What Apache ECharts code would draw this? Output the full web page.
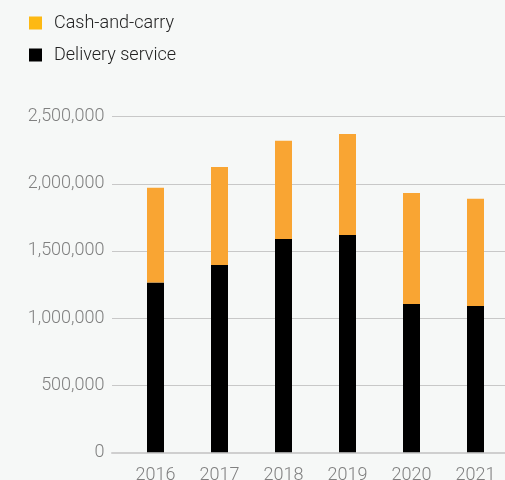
<!DOCTYPE html>
<html>
<head>
<meta charset="utf-8">
<script src="https://cdn.jsdelivr.net/npm/echarts@6/dist/echarts.min.js"></script>
<style>
  html, body { margin: 0; padding: 0; background: #f6f8f7; }
  #chart { width: 505px; height: 480px; }
</style>
</head>
<body>
<div id="chart"></div>
<script>
'use strict'

var years = ['2016', '2017', '2018', '2019', '2020', '2021'];
var delivery = [1264000, 1396000, 1589000, 1619000, 1105000, 1090000];
var cashAndCarry = [706000, 730000, 731000, 753000, 827000, 798000];
var yMax = 2500000;
var yStep = 500000;

var labelFont = 'Roboto';
var myChart = echarts.init(document.getElementById('chart'));

var option = {
    backgroundColor: '#f6f8f7',
    animation: false,
    legend: {
        orient: 'vertical',
        left: 24,
        top: 9,
        itemWidth: 13,
        itemHeight: 13,
        itemGap: 14,
        icon: 'rect',
        textStyle: {
            color: '#222222',
            fontSize: 18,
            fontFamily: labelFont,
            fontWeight: 300,
            padding: [0, 0, 0, 7]
        },
        data: [
            { name: 'Cash-and-carry', itemStyle: { color: '#fdb913' } },
            { name: 'Delivery service', itemStyle: { color: '#000000' } }
        ]
    },
    // grid 0: bars, grid 1: background gridlines that start a bit further left
    grid: [
        { left: 123.5, top: 116.7, width: 384, bottom: 27.7, outerBoundsMode: 'none', containLabel: false },
        { left: 112, top: 116.7, right: 0, bottom: 27.7, outerBoundsMode: 'none', containLabel: false }
    ],
    xAxis: [
        {
            type: 'category',
            gridIndex: 0,
            data: years,
            axisLine: { show: false },
            axisTick: { show: false },
            axisLabel: {
                color: '#808080',
                fontSize: 18,
                fontFamily: labelFont,
                fontWeight: 300,
                margin: 14
            }
        },
        {
            type: 'value',
            gridIndex: 1,
            min: 0,
            max: 1,
            axisLine: { show: true, lineStyle: { color: '#cfcfcf', width: 2 } },
            axisTick: { show: false },
            axisLabel: { show: false },
            splitLine: { show: false }
        }
    ],
    yAxis: [
        {
            type: 'value',
            gridIndex: 0,
            min: 0,
            max: yMax,
            interval: yStep,
            axisLine: { show: false },
            axisTick: { show: false },
            splitLine: { show: false },
            axisLabel: {
                color: '#808080',
                fontSize: 18,
                fontFamily: labelFont,
                fontWeight: 300,
                margin: 19,
                formatter: function (v) {
                    return v.toLocaleString('en-US');
                }
            }
        },
        {
            type: 'value',
            gridIndex: 1,
            min: 0,
            max: yMax,
            interval: yStep,
            axisLine: { show: false },
            axisTick: { show: false },
            axisLabel: { show: false },
            splitLine: { lineStyle: { color: '#c8c8c8', width: 1 } }
        }
    ],
    series: [
        {
            name: 'Delivery service',
            type: 'bar',
            stack: 'total',
            barWidth: 17,
            z: 3,
            itemStyle: { color: '#000000' },
            data: delivery
        },
        {
            name: 'Cash-and-carry',
            type: 'bar',
            stack: 'total',
            barWidth: 17,
            z: 3,
            itemStyle: { color: '#f9a533' },
            data: cashAndCarry
        }
    ]
};

myChart.setOption(option);
</script>
</body>
</html>
